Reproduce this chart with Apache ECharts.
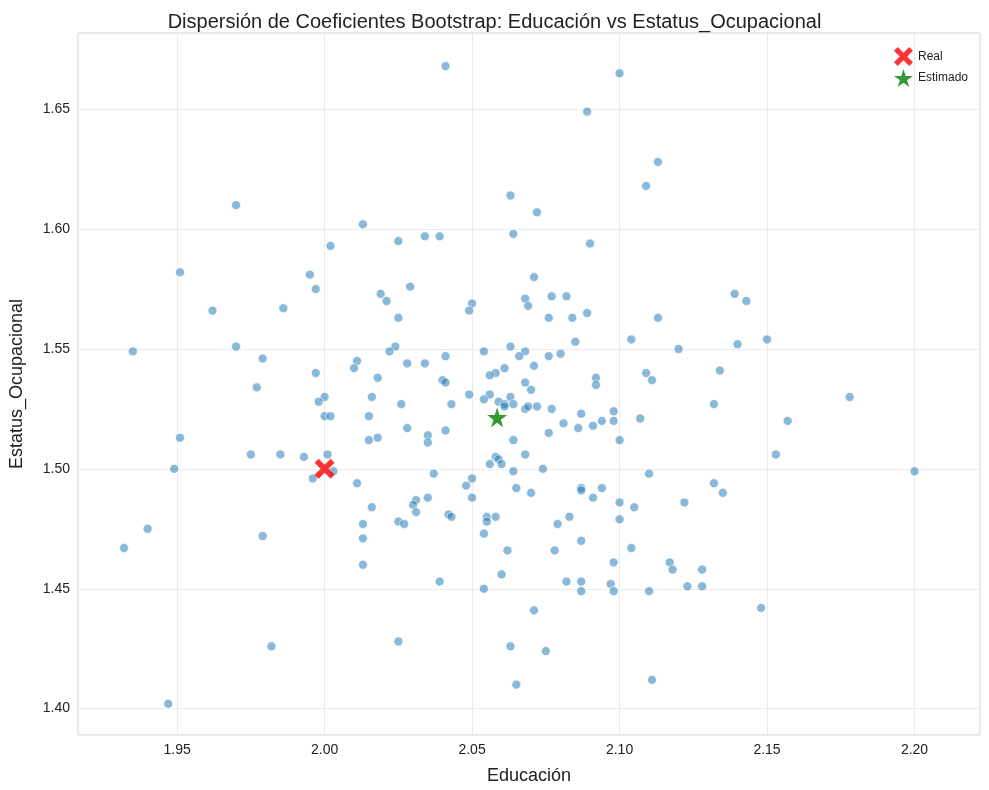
<!DOCTYPE html>
<html>
<head>
<meta charset="utf-8">
<script src="https://cdn.jsdelivr.net/npm/echarts@6/dist/echarts.min.js"></script>
<style>
  html, body { margin: 0; padding: 0; background: #fff; }
  #chart { width: 989px; height: 790px; }
</style>
</head>
<body>
<div id="chart"></div>
<script>
// coeficientes bootstrap: [educacion, estatus_ocupacional]
const bootstrapPoints = [
  [2.041,1.668],[2.100,1.665],[2.089,1.649],[2.113,1.628],[2.109,1.618],[2.063,1.614],[1.970,1.610],[2.072,1.607],
  [2.013,1.602],[2.064,1.598],[2.034,1.597],[2.039,1.597],[2.025,1.595],[2.090,1.594],[2.002,1.593],[1.951,1.582],
  [1.995,1.581],[2.071,1.580],[1.997,1.575],[2.029,1.576],[2.139,1.573],[2.019,1.573],[2.077,1.572],[2.082,1.572],
  [2.068,1.571],[2.021,1.570],[2.143,1.570],[2.050,1.569],[2.069,1.568],[1.986,1.567],[1.962,1.566],[2.049,1.566],
  [2.089,1.565],[2.025,1.563],[2.076,1.563],[2.084,1.563],[2.113,1.563],[2.104,1.554],[2.150,1.554],[2.085,1.553],
  [2.140,1.552],[2.063,1.551],[1.970,1.551],[2.024,1.551],[1.935,1.549],[2.120,1.550],[2.054,1.549],[2.068,1.549],
  [2.022,1.549],[2.080,1.548],[2.076,1.547],[2.041,1.547],[2.066,1.547],[1.979,1.546],[2.011,1.545],[2.010,1.542],
  [2.061,1.542],[2.034,1.544],[2.028,1.544],[2.071,1.543],[2.134,1.541],[1.997,1.540],[2.058,1.540],[2.109,1.540],
  [2.018,1.538],[2.056,1.539],[2.092,1.538],[2.111,1.537],[2.040,1.537],[2.041,1.536],[2.068,1.536],[2.092,1.535],
  [1.977,1.534],[2.070,1.533],[2.056,1.531],[2.049,1.531],[2.016,1.530],[2.178,1.530],[2.000,1.530],[2.063,1.530],
  [2.054,1.529],[2.059,1.528],[1.998,1.528],[2.061,1.527],[2.064,1.527],[2.043,1.527],[2.026,1.527],[2.132,1.527],
  [2.072,1.526],[2.061,1.526],[2.068,1.525],[2.069,1.526],[2.077,1.525],[2.098,1.524],[2.087,1.523],[2.000,1.522],
  [2.015,1.522],[2.002,1.522],[2.107,1.521],[2.157,1.520],[2.098,1.520],[2.094,1.520],[2.081,1.519],[2.091,1.518],
  [2.028,1.517],[2.041,1.516],[2.086,1.517],[2.076,1.515],[2.035,1.514],[1.951,1.513],[2.018,1.513],[2.015,1.512],
  [2.064,1.512],[2.100,1.512],[2.035,1.511],[2.068,1.506],[1.975,1.506],[1.985,1.506],[2.153,1.506],[2.001,1.506],
  [1.993,1.505],[2.058,1.505],[2.059,1.504],[2.056,1.502],[2.060,1.502],[2.074,1.500],[1.949,1.500],[2.200,1.499],
  [2.003,1.499],[2.064,1.499],[2.037,1.498],[2.110,1.498],[1.996,1.496],[2.050,1.496],[2.132,1.494],[2.011,1.494],
  [2.048,1.493],[2.065,1.492],[2.087,1.492],[2.087,1.491],[2.094,1.492],[2.135,1.490],[2.070,1.490],[2.050,1.488],
  [2.035,1.488],[2.091,1.488],[2.031,1.487],[2.030,1.485],[2.100,1.486],[2.105,1.484],[2.016,1.484],[2.031,1.482],
  [2.042,1.481],[2.043,1.480],[2.058,1.480],[2.055,1.480],[2.100,1.479],[2.083,1.480],[2.055,1.478],[2.025,1.478],
  [2.027,1.477],[2.079,1.477],[2.013,1.477],[1.940,1.475],[2.054,1.473],[1.979,1.472],[2.013,1.471],[2.087,1.470],
  [1.932,1.467],[2.062,1.466],[2.078,1.466],[2.104,1.467],[2.122,1.486],[2.117,1.461],[2.098,1.461],[2.013,1.460],
  [2.118,1.458],[2.128,1.458],[2.060,1.456],[2.039,1.453],[2.082,1.453],[2.087,1.453],[2.097,1.452],[2.123,1.451],
  [2.128,1.451],[2.054,1.450],[2.087,1.449],[2.098,1.449],[2.110,1.449],[2.148,1.442],[2.071,1.441],[2.025,1.428],
  [1.982,1.426],[2.063,1.426],[2.075,1.424],[2.111,1.412],[2.065,1.410],[1.947,1.402]
];
const realPoint = [2.000, 1.500];
const estimatedPoint = [2.0585, 1.5215];

const xSymbol = 'path://M2,0 L5,3 L8,0 L10,2 L7,5 L10,8 L8,10 L5,7 L2,10 L0,8 L3,5 L0,2 Z';
const starSymbol = 'path://M50,0 L61,35 L98,35 L68,57 L79,91 L50,70 L21,91 L32,57 L2,35 L39,35 Z';
const fontFam = 'Liberation Sans, Arial, sans-serif';

let myChart = echarts.init(document.getElementById('chart'));
let option = {
  animation: false,
  title: {
    text: 'Dispersión de Coeficientes Bootstrap: Educación vs Estatus_Ocupacional',
    left: 'center', top: 7,
    textStyle: { fontFamily: fontFam, fontSize: 20, fontWeight: 'normal', color: '#222' }
  },
  legend: {
    right: 16, top: 42, orient: 'vertical', itemGap: 3, itemWidth: 19, itemHeight: 19,
    textStyle: { fontFamily: fontFam, fontSize: 12, color: '#222' },
    data: [
      { name: 'Real', icon: xSymbol, itemStyle: { color: 'red' } },
      { name: 'Estimado', icon: starSymbol, itemStyle: { color: 'green' } }
    ]
  },
  grid: { left: 71, right: 9, top: 33, bottom: 53, show: true, borderColor: '#cccccc', borderWidth: 1 },
  xAxis: {
    type: 'value', min: 1.9164, max: 2.2222, splitNumber: 6,
    name: 'Educación', nameLocation: 'middle', nameGap: 32,
    nameTextStyle: { fontFamily: fontFam, fontSize: 18, color: '#222' },
    axisLine: { show: false }, axisTick: { show: false },
    axisLabel: { showMinLabel: false, showMaxLabel: false, fontFamily: fontFam, fontSize: 14, color: '#222', formatter: v => v.toFixed(2) },
    splitLine: { lineStyle: { color: '#ebebeb' } }
  },
  yAxis: {
    type: 'value', min: 1.389, max: 1.6818, splitNumber: 6,
    name: 'Estatus_Ocupacional', nameLocation: 'middle', nameGap: 52,
    nameTextStyle: { fontFamily: fontFam, fontSize: 18, color: '#222' },
    axisLine: { show: false }, axisTick: { show: false },
    axisLabel: { showMinLabel: false, showMaxLabel: false, fontFamily: fontFam, fontSize: 14, color: '#222', formatter: v => v.toFixed(2) },
    splitLine: { lineStyle: { color: '#ebebeb' } }
  },
  series: [
    {
      name: 'Bootstrap', type: 'scatter', symbolSize: 9, data: bootstrapPoints,
      itemStyle: { color: 'rgba(31,119,180,0.65)', borderColor: '#fff', borderWidth: 0.8 }
    },
    {
      name: 'Real', type: 'scatter', symbol: xSymbol, symbolSize: 20, data: [realPoint],
      itemStyle: { color: 'red' }, z: 5
    },
    {
      name: 'Estimado', type: 'scatter', symbol: starSymbol,
      symbolSize: 20, data: [estimatedPoint], itemStyle: { color: 'green' }, z: 5
    }
  ]
};
myChart.setOption(option);
</script>
</body>
</html>
